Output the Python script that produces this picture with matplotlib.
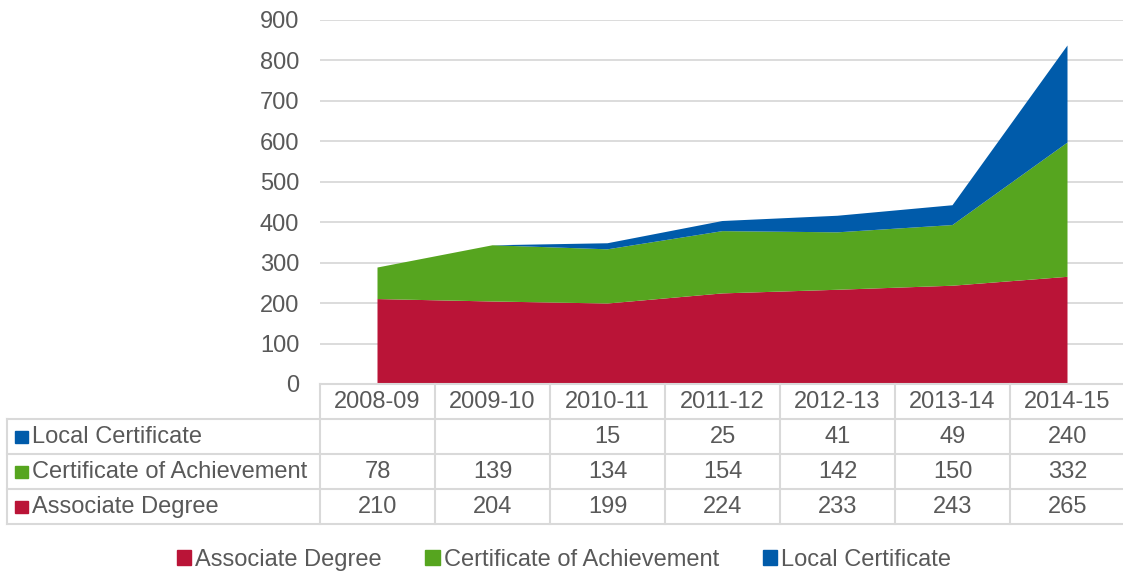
import matplotlib
matplotlib.use("Agg")
import matplotlib.pyplot as plt
from matplotlib.patches import Rectangle
import numpy as np

categories = ["2008-09", "2009-10", "2010-11", "2011-12", "2012-13", "2013-14", "2014-15"]
associate = [210, 204, 199, 224, 233, 243, 265]
achievement = [78, 139, 134, 154, 142, 150, 332]
local = [None, None, 15, 25, 41, 49, 240]
series_names = ["Associate Degree", "Certificate of Achievement", "Local Certificate"]
colors = ["#BA1437", "#56A51F", "#005BAA"]
yticks = [0, 100, 200, 300, 400, 500, 600, 700, 800, 900]

plt.rcParams['font.family'] = ['Liberation Sans', 'DejaVu Sans']
TXT = "#595959"
GRID = "#D9D9D9"
FS = 17

W, H = 1123, 577
fig = plt.figure(figsize=(W / 100, H / 100), dpi=100)

px_l, px_r, px_t, px_b = 320, 1125, 20, 384
ax = fig.add_axes([px_l / W, 1 - px_b / H, (px_r - px_l) / W, (px_b - px_t) / H])

x = np.arange(len(categories))
loc_vals = [v if v is not None else 0 for v in local]
ax.stackplot(x, associate, achievement, loc_vals, colors=colors, linewidth=0)
ax.set_xlim(-0.5, len(categories) - 0.5)
ax.set_ylim(0, 900)
ax.set_yticks(yticks)
ax.set_yticklabels([str(t) for t in yticks], fontsize=FS, color=TXT)
ax.set_xticks([])
ax.tick_params(axis='y', length=0, pad=15)
ax.yaxis.grid(True, color=GRID, linewidth=1.3)
ax.set_axisbelow(True)
for s in ["top", "right", "left"]:
    ax.spines[s].set_visible(False)
ax.spines["bottom"].set_color(GRID)
ax.spines["bottom"].set_linewidth(1.5)

# data table
tbl_l, tbl_t, tbl_b = 7, 384, 524
col_w = (px_r - px_l) / len(categories)
left_cols = (px_l - tbl_l) / col_w
tax = fig.add_axes([tbl_l / W, 1 - tbl_b / H, (px_r - tbl_l) / W, (tbl_b - tbl_t) / H])
tax.set_xlim(-0.5 - left_cols, len(categories) - 0.5)
tax.set_ylim(4, 0)
tax.axis("off")
lw = 1.5
for r in [1, 2, 3, 4]:
    tax.plot([-0.5 - left_cols, len(categories) - 0.5], [r, r], color=GRID, lw=lw, clip_on=False)
for c in range(len(categories) + 1):
    tax.plot([c - 0.5, c - 0.5], [0, 4], color=GRID, lw=lw, clip_on=False)
tax.plot([-0.5 - left_cols] * 2, [1, 4], color=GRID, lw=lw, clip_on=False)

for i, cat in enumerate(categories):
    tax.text(i, 0.52, cat, ha="center", va="center", fontsize=FS, color=TXT)

rows = [(series_names[2], local, colors[2]), (series_names[1], achievement, colors[1]), (series_names[0], associate, colors[0])]
for r, (name, vals, col) in enumerate(rows, start=1):
    yc = r + 0.52
    tax.add_patch(Rectangle((-0.5 - left_cols + 0.07, yc - 0.19), 0.113, 0.36, color=col, clip_on=False))
    tax.text(-0.5 - left_cols + 0.22, yc, name, ha="left", va="center", fontsize=FS, color=TXT)
    for i, v in enumerate(vals):
        if v is not None:
            tax.text(i, yc, str(v), ha="center", va="center", fontsize=FS, color=TXT)

# legend
handles = [Rectangle((0, 0), 1, 1, color=c) for c in colors]
fig.legend(handles, series_names, loc="center", bbox_to_anchor=(0.502, 1 - 560 / H), ncol=3,
           frameon=False, fontsize=FS, labelcolor=TXT, handlelength=0.6, handleheight=0.6,
           handletextpad=0.17, columnspacing=1.86)

fig.savefig("out.png", dpi=100)
